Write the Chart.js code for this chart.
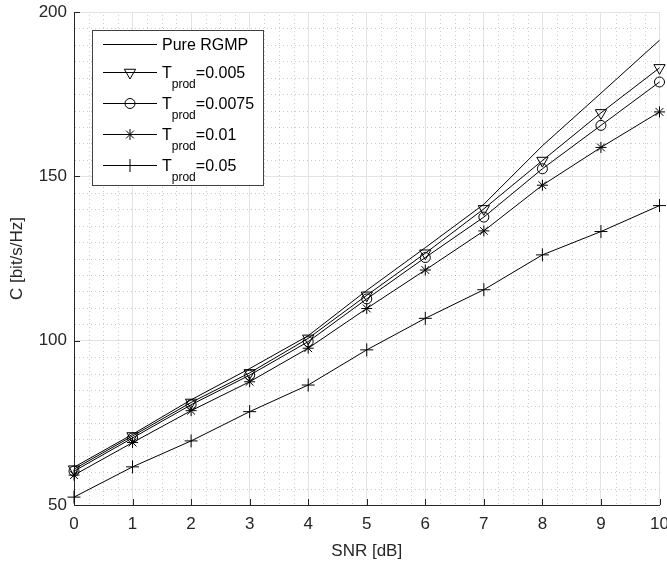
<!DOCTYPE html>
<html>
<head>
<meta charset="utf-8">
<title>Capacity vs SNR</title>
<script src="https://cdn.jsdelivr.net/npm/chart.js@4/dist/chart.umd.min.js"></script>
<style>
  html, body { margin: 0; padding: 0; background: #fff; }
  #capacityChart { display: block; }
</style>
</head>
<body>
<canvas id="capacityChart" width="667" height="570"></canvas>
<script>
// SNR points (dB) and capacity per scheme (bit/s/Hz)
const snrDb = [0, 1, 2, 3, 4, 5, 6, 7, 8, 9, 10];
const capPure = [61.5, 71.5, 82.0, 91.5, 101.5, 115.3, 128.3, 141.5, 159.3, 175.3, 191.4];
const capT0005 = [60.9, 71.0, 81.2, 90.2, 100.7, 113.8, 126.6, 140.1, 154.8, 169.3, 183.0];
const capT00075 = [60.3, 70.4, 80.5, 89.5, 99.7, 112.7, 125.3, 137.6, 152.3, 165.5, 178.7];
const capT001 = [59.1, 69.0, 78.7, 87.5, 97.7, 109.8, 121.5, 133.4, 147.3, 158.8, 169.6];
const capT005 = [52.4, 61.6, 69.5, 78.4, 86.5, 97.2, 106.8, 115.5, 126.1, 133.2, 141.1];
const xTicks = [0, 1, 2, 3, 4, 5, 6, 7, 8, 9, 10];
const yTicks = [50, 100, 150, 200];

const FONT = "'Liberation Sans', Arial, Helvetica, sans-serif";
const AXIS_COLOR = '#262626';

// legend rows: main text, subscript, rest
const legendRows = [
  { main: 'Pure RGMP', sub: '', rest: '', style: false },
  { main: 'T', sub: 'prod', rest: '=0.005', style: 'triangle', rotation: 180, radius: 6.5 },
  { main: 'T', sub: 'prod', rest: '=0.0075', style: 'circle', rotation: 0, radius: 5 },
  { main: 'T', sub: 'prod', rest: '=0.01', style: 'star', rotation: 0, radius: 5.5 },
  { main: 'T', sub: 'prod', rest: '=0.05', style: 'cross', rotation: 0, radius: 6.5 }
];

const toPoints = (vals) => vals.map((v, i) => ({ x: snrDb[i], y: v }));

const series = (label, vals, style, radius, rotation) => ({
  label: label,
  data: toPoints(vals),
  borderColor: '#000',
  borderWidth: 1,
  backgroundColor: 'transparent',
  pointStyle: style,
  pointRadius: radius,
  pointRotation: rotation || 0,
  pointBorderColor: '#000',
  pointBackgroundColor: 'transparent',
  pointBorderWidth: 1,
  pointHoverRadius: radius,
  tension: 0,
  clip: false
});

// dotted minor grid and inward tick marks
const minorGrid = {
  id: 'minorGrid',
  beforeDatasetsDraw(chart) {
    const ctx = chart.ctx;
    const xs = chart.scales.x;
    const ys = chart.scales.y;
    const a = chart.chartArea;
    ctx.save();
    ctx.strokeStyle = 'rgba(0,0,0,0.2)';
    ctx.lineWidth = 1;
    ctx.setLineDash([1, 3]);
    for (let v = 0.25; v < 10; v += 0.25) {
      if (Math.abs(v - Math.round(v)) < 1e-6) continue;
      const px = Math.round(xs.getPixelForValue(v)) + 0.5;
      ctx.beginPath();
      ctx.moveTo(px, a.bottom - 1);
      ctx.lineTo(px, a.top);
      ctx.stroke();
    }
    for (let v = 55; v < 200; v += 5) {
      if (v % 50 === 0) continue;
      const py = Math.round(ys.getPixelForValue(v)) + 0.5;
      ctx.beginPath();
      ctx.moveTo(a.left + 1, py);
      ctx.lineTo(a.right, py);
      ctx.stroke();
    }
    ctx.setLineDash([]);
    ctx.strokeStyle = AXIS_COLOR;
    xTicks.forEach((t) => {
      const px = Math.round(xs.getPixelForValue(t)) + 0.5;
      ctx.beginPath();
      ctx.moveTo(px, a.bottom);
      ctx.lineTo(px, a.bottom - 6);
      ctx.stroke();
    });
    yTicks.forEach((t) => {
      const py = Math.round(ys.getPixelForValue(t)) + 0.5;
      ctx.beginPath();
      ctx.moveTo(a.left, py);
      ctx.lineTo(a.left + 6, py);
      ctx.stroke();
    });
    ctx.restore();
  }
};

// boxed legend with subscripted labels
const boxLegend = {
  id: 'boxLegend',
  afterDraw(chart) {
    const ctx = chart.ctx;
    const left = 92, top = 30, w = 171, h = 155;
    const rowY = [44, 72, 103, 134, 165];
    ctx.save();
    ctx.fillStyle = '#fff';
    ctx.fillRect(left, top, w, h);
    ctx.strokeStyle = '#404040';
    ctx.lineWidth = 1;
    ctx.strokeRect(left + 0.5, top + 0.5, w, h);
    legendRows.forEach((row, i) => {
      const y = rowY[i] + 0.5;
      ctx.strokeStyle = '#000';
      ctx.beginPath();
      ctx.moveTo(103, y);
      ctx.lineTo(157, y);
      ctx.stroke();
      if (row.style) {
        ctx.fillStyle = 'transparent';
        ctx.strokeStyle = '#000';
        Chart.helpers.drawPoint(ctx, {
          pointStyle: row.style,
          rotation: row.rotation,
          radius: row.radius,
          borderWidth: 1
        }, 130, y);
      }
      ctx.fillStyle = '#000';
      ctx.textBaseline = 'alphabetic';
      ctx.textAlign = 'left';
      ctx.font = '16px ' + FONT;
      const base = rowY[i] + 6;
      let x = 162;
      ctx.fillText(row.main, x, base);
      x += ctx.measureText(row.main).width;
      if (row.sub) {
        ctx.font = '12px ' + FONT;
        ctx.fillText(row.sub, x, base + 10);
        x += ctx.measureText(row.sub).width;
        ctx.font = '16px ' + FONT;
        ctx.fillText(row.rest, x, base);
      }
    });
    ctx.restore();
  }
};

const ctx = document.getElementById('capacityChart').getContext('2d');
const capacityChart = new Chart(ctx, {
  type: 'line',
  data: {
    datasets: [
      series('Pure RGMP', capPure, false, 0, 0),
      series('T_prod=0.005', capT0005, 'triangle', 6.5, 180),
      series('T_prod=0.0075', capT00075, 'circle', 5, 0),
      series('T_prod=0.01', capT001, 'star', 5.5, 0),
      series('T_prod=0.05', capT005, 'cross', 6.5, 0)
    ]
  },
  options: {
    responsive: false,
    animation: false,
    devicePixelRatio: 1,
    layout: { padding: { top: 12, right: 6, left: 0, bottom: 0 } },
    plugins: {
      legend: { display: false },
      tooltip: { enabled: false }
    },
    scales: {
      x: {
        type: 'linear',
        min: 0,
        max: 10,
        afterBuildTicks: (scale) => { scale.ticks = xTicks.map((v) => ({ value: v })); },
        afterFit: (scale) => { scale.height = 65; scale.paddingLeft = 0; scale.paddingRight = 0; },
        ticks: { color: AXIS_COLOR, padding: 9, font: { family: FONT, size: 17 }, maxRotation: 0 },
        grid: { color: '#e3e3e3', lineWidth: 1, drawTicks: false },
        border: { display: true, color: AXIS_COLOR, width: 1 },
        title: { display: true, text: 'SNR [dB]', color: AXIS_COLOR, font: { family: FONT, size: 17 }, padding: { top: 0, bottom: 8 } }
      },
      y: {
        type: 'linear',
        min: 50,
        max: 200,
        afterBuildTicks: (scale) => { scale.ticks = yTicks.map((v) => ({ value: v })); },
        afterFit: (scale) => { scale.width = 74; scale.paddingTop = 0; scale.paddingBottom = 0; },
        ticks: { color: AXIS_COLOR, padding: 7, font: { family: FONT, size: 17 } },
        grid: { color: '#e3e3e3', lineWidth: 1, drawTicks: false },
        border: { display: true, color: AXIS_COLOR, width: 1 },
        title: { display: true, text: 'C [bit/s/Hz]', color: AXIS_COLOR, font: { family: FONT, size: 17 }, padding: { top: 7, bottom: 0 } }
      }
    }
  },
  plugins: [minorGrid, boxLegend]
});
</script>
</body>
</html>
